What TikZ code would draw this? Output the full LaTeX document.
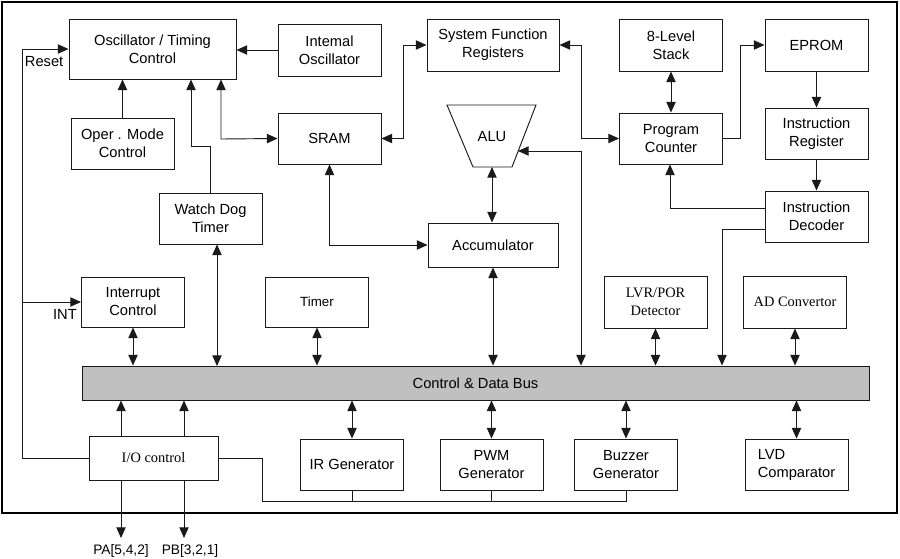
\documentclass[tikz,border=0pt]{standalone}
\usepackage{fontspec}
\setmainfont{Liberation Sans}
\newfontfamily\timesfont{Liberation Serif}
\usetikzlibrary{arrows.meta}
\usetikzlibrary{positioning}
\definecolor{busgray}{HTML}{C0C0C0}
\definecolor{wire}{HTML}{1A1A1A}
\tikzset{every node/.style={ % text of all blocks
           font=\fontsize{11}{13.5}\selectfont,
           align=center},
         blk/.style={ % plain block, most blocks share this size
           draw=wire, line width=0.7pt, inner sep=1pt,
           minimum width=77.25pt, minimum height=38.25pt},
         serif/.style={font=\timesfont\fontsize{10.8}{13.5}\selectfont},
         pinlbl/.style={font=\fontsize{10.3}{12}\selectfont, inner sep=1pt},
         sarr/.style={ % one way connector
           draw=wire, line width=0.7pt,
           -{Triangle[length=8pt,width=7pt]}},
         darr/.style={ % two way connector
           draw=wire, line width=0.7pt,
           {Triangle[length=8pt,width=7pt]}-{Triangle[length=8pt,width=7pt]}},
         wireline/.style={draw=wire, line width=0.7pt}}

\begin{document}
\begin{tikzpicture}[x=0.75pt, y=-0.75pt]
  \useasboundingbox (0,0) rectangle (900,558);
  \draw[line width=1.6pt] (2,2) rectangle (897,513);

  % upper part
  \node[blk, minimum width=125.25pt, minimum height=45pt] (osc) at (152.5,49) {Oscillator / Timing\\Control};
  \node[blk, minimum height=39pt] (intosc) at (329.5,50) {Intemal\\Oscillator};
  \node[blk] (oper) at (122.5,143.5) {Oper . Mode\\Control};
  \node[blk] (sram) at (329.5,138.5) {SRAM};
  \node[blk] (wdt) at (210.5,218.5) {Watch Dog\\Timer};
  \node[blk, minimum width=99pt, minimum height=39pt] (sfr) at (493,45) {System Function\\Registers};
  \node (alu) at (492,137) {ALU};
  \draw[wireline] (447,105) -- (536,105) -- (512,167) -- (473,167) -- cycle;
  \node[blk, minimum width=97.5pt, minimum height=33pt] (acc) at (493,245) {Accumulator};
  \node[blk, minimum height=39pt] (stack) at (671,45) {8-Level\\Stack};
  \node[blk, minimum height=39pt] (eprom) at (816.5,45) {EPROM};
  \node[blk] (pc) at (671,138.5) {Program\\Counter};
  \node[blk] (ir) at (816.5,133.5) {Instruction\\Register};
  \node[blk] (id) at (816.5,216.5) {Instruction\\Decoder};

  % blocks above the bus
  \node[blk, minimum height=37.5pt] (intc) at (133,302) {Interrupt\\Control};
  \node[blk, minimum height=37.5pt, font=\fontsize{10}{12}\selectfont] (timer) at (317,302) {Timer};
  \node[blk, serif, minimum height=39pt] (lvr) at (655.5,302) {LVR/POR\\Detector};
  \node[blk, serif, minimum height=39pt] (adc) at (795,302) {AD Convertor};

  \node[draw=wire, line width=0.7pt, fill=busgray, inner sep=0pt,
        minimum width=590.25pt, minimum height=25.5pt] (bus) at (475.5,383) {Control \& Data Bus};

  % blocks below the bus
  \node[blk, serif, minimum width=96.75pt, minimum height=33pt] (io) at (153.5,458) {I/O control};
  \node[blk] (irg) at (352,464.5) {IR Generator};
  \node[blk] (pwm) at (491.5,464.5) {PWM\\Generator};
  \node[blk] (buz) at (626,464.5) {Buzzer\\Generator};
  \node[blk, align=left] (lvd) at (796.5,464.5) {LVD\\Comparator};

  % bends of the connectors
  \coordinate (rst) at (22,49);
  \coordinate (wdtup) at (191,146);
  \coordinate (sramup) at (221,139);
  \coordinate (wdtbus) at (217,366);
  \coordinate (sfrtrk) at (403,45);
  \coordinate (pctrk) at (581,45);
  \coordinate (alur) at (518,151);
  \coordinate (alub) at (492,167);
  \coordinate (alutrk) at (581,151);
  \coordinate (eptrk) at (740,45);
  \coordinate (idpc) at (670,208);
  \coordinate (idbus) at (722,229);
  \coordinate (genl) at (262,501);
  \coordinate (pa) at (121,538);
  \coordinate (pb) at (184,538);

  \draw[sarr] (intosc) -- (osc.east |- intosc);
  \draw[sarr] (oper) -- (oper |- osc.south);
  \draw[sarr] (wdt.north) |- (wdtup) -- (wdtup |- osc.south);
  \draw[darr] (sram.west) -- (sramup) -- (sramup |- osc.south);
  \draw[sarr] (io.west) -| (rst) -- (osc.west);
  \node[anchor=north west, inner xsep=2pt, inner ysep=5pt] (rstlbl) at (rst) {Reset};
  \draw[sarr] (intc.west -| rst) -- (intc.west);
  \node[anchor=north east, inner xsep=3pt, inner ysep=5pt] (intlbl) at (intc.west) {INT};

  \draw[darr] (sram.east) -| (sfrtrk) -- (sfr.west);
  \draw[darr] (sfr.east) -- (pctrk) |- (pc.west);
  \draw[darr] (alur) -- (alutrk) -- (alutrk |- bus.north);
  \draw[darr] (alub) -- (alub |- acc.north);
  \draw[darr] (sram.south) |- (acc.west);
  \draw[darr] (acc.south) -- (acc.south |- bus.north);

  \draw[darr] (stack) -- (pc);
  \draw[sarr] (pc.east) -| (eptrk) -- (eprom.west);
  \draw[sarr] (eprom) -- (ir);
  \draw[sarr] (ir) -- (id);
  \draw[sarr] (id.west |- idpc) -- (idpc) -- (idpc |- pc.south);
  \draw[sarr] (id.west |- idbus) -- (idbus) -- (idbus |- bus.north);

  \draw[darr] (intc) -- (intc |- bus.north);
  \draw[darr] (wdt.south -| wdtbus) -- (wdtbus);
  \draw[darr] (timer) -- (timer |- bus.north);
  \draw[darr] (lvr) -- (lvr |- bus.north);
  \draw[darr] (adc) -- (adc |- bus.north);

  \draw[sarr] (io.north -| pa) -- (bus.south -| pa);
  \draw[sarr] (io.north -| pb) -- (bus.south -| pb);
  \draw[sarr] (io.south -| pa) -- (pa);
  \draw[sarr] (io.south -| pb) -- (pb);
  \node[pinlbl, below=4pt of pa] (palbl) {PA[5,4,2]};
  \node[pinlbl, below=4pt of pb, xshift=4.5pt] (pblbl) {PB[3,2,1]};

  \draw[darr] (bus.south -| irg) -- (irg);
  \draw[darr] (bus.south -| pwm) -- (pwm);
  \draw[darr] (bus.south -| buz) -- (buz);
  \draw[darr] (bus.south -| lvd) -- (lvd);

  \draw[wireline] (io.east) -| (genl) -| (buz.south);
  \draw[wireline] (irg.south) -- (irg.south |- genl);
  \draw[wireline] (pwm.south) -- (pwm.south |- genl);
\end{tikzpicture}
\end{document}
